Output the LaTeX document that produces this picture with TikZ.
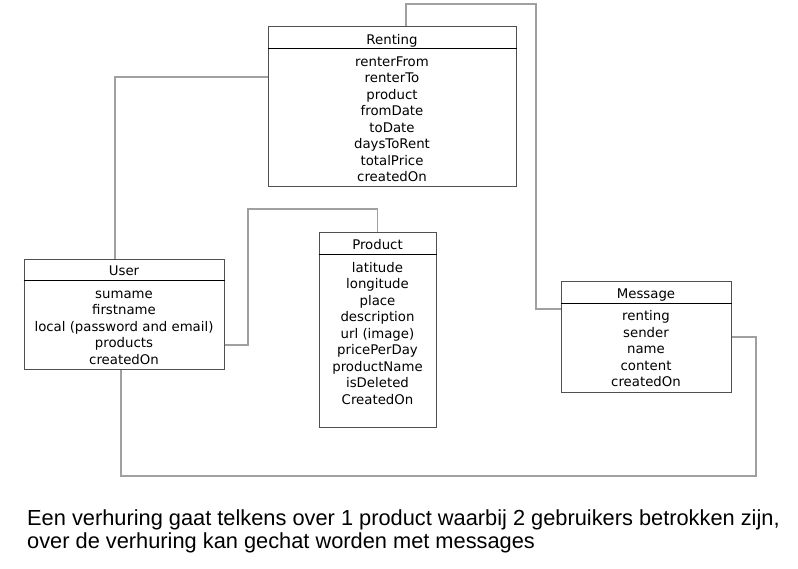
\documentclass[tikz,border=0pt]{standalone}
\usepackage{fontspec}
\setmainfont{DejaVu Sans}
\newfontfamily\notefont{Liberation Sans}
\usetikzlibrary{calc}
\definecolor{conncol}{HTML}{A0A0A0}
\definecolor{boxcol}{HTML}{505050}
\begin{document}
\begin{tikzpicture}[x=1pt,y=-1pt,
  entity/.style={draw=boxcol,line width=1pt,rectangle,inner sep=0pt,fill=white},
  title/.style={font=\fontsize{13.3}{16}\selectfont,inner sep=0pt,anchor=base},
  attrs/.style={font=\fontsize{13.3}{16.5}\selectfont,align=center,inner sep=0pt,anchor=base},
  conn/.style={draw=conncol,line width=1.1pt},
  sep/.style={draw=black,line width=1pt},
  note/.style={font=\notefont\fontsize{21.8}{23}\selectfont,align=left,inner sep=0pt,anchor=base west}]
\useasboundingbox[fill=white] (0,0) rectangle (798,569);

% boxes
\node[entity,minimum width=248pt,minimum height=160pt] (renting) at (392,107) {};
\node[entity,minimum width=200pt,minimum height=109pt] (user) at (124,314.5) {};
\node[entity,minimum width=117pt,minimum height=194pt] (product) at (377.5,330) {};
\node[entity,minimum width=170pt,minimum height=110pt] (message) at (646,337) {};

% header separators
\draw[sep] ([yshift=-22pt]renting.north west) coordinate (rsl) -- ([yshift=-22pt]renting.north east) coordinate (rsr);
\draw[sep] ([yshift=-21pt]user.north west) coordinate (usl) -- ([yshift=-21pt]user.north east) coordinate (usr);
\draw[sep] ([yshift=-22pt]product.north west) coordinate (psl) -- ([yshift=-22pt]product.north east) coordinate (psr);
\draw[sep] ([yshift=-22pt]message.north west) coordinate (msl) -- ([yshift=-22pt]message.north east) coordinate (msr);

% titles
\node[title] (rentingT) at (392,44.3) {Renting};
\node[title] (userT) at (124,275.7) {User};
\node[title] (productT) at (377.5,250) {Product};
\node[title] (messageT) at (646,298.7) {Message};

% attributes (anchored at baseline of last line)
\node[attrs] (rentingA) at (392,182) {renterFrom\\renterTo\\product\\fromDate\\toDate\\daysToRent\\totalPrice\\createdOn};
\node[attrs] (userA) at (124,364.3) {sumame\\firstname\\local (password and email)\\products\\createdOn};
\node[attrs] (productA) at (377.5,404) {latitude\\longitude\\place\\description\\url (image)\\pricePerDay\\productName\\isDeleted\\CreatedOn};
\node[attrs] (messageA) at (646,386.7) {renting\\sender\\name\\content\\createdOn};

% bend coordinates
\coordinate (k1) at (536,4);
\coordinate (k2) at (248,209);
\coordinate (k3) at (756,476);

% connectors
\draw[conn] ([xshift=14pt]renting.north) |- (k1) |- ([yshift=28pt]message.west);
\draw[conn] ([yshift=30pt]renting.west) -| ([xshift=-9pt]user.north);
\draw[conn] ([yshift=-30.5pt]user.east) -| (k2) -| (product.north);
\draw[conn] ([xshift=-3pt]user.south) |- (k3) |- (message.east);

% note (anchored at baseline of last line)
\node[note] (note) at (27,548) {Een verhuring gaat telkens over 1 product waarbij 2 gebruikers betrokken zijn,\\over de verhuring kan gechat worden met messages};
\end{tikzpicture}
\end{document}
